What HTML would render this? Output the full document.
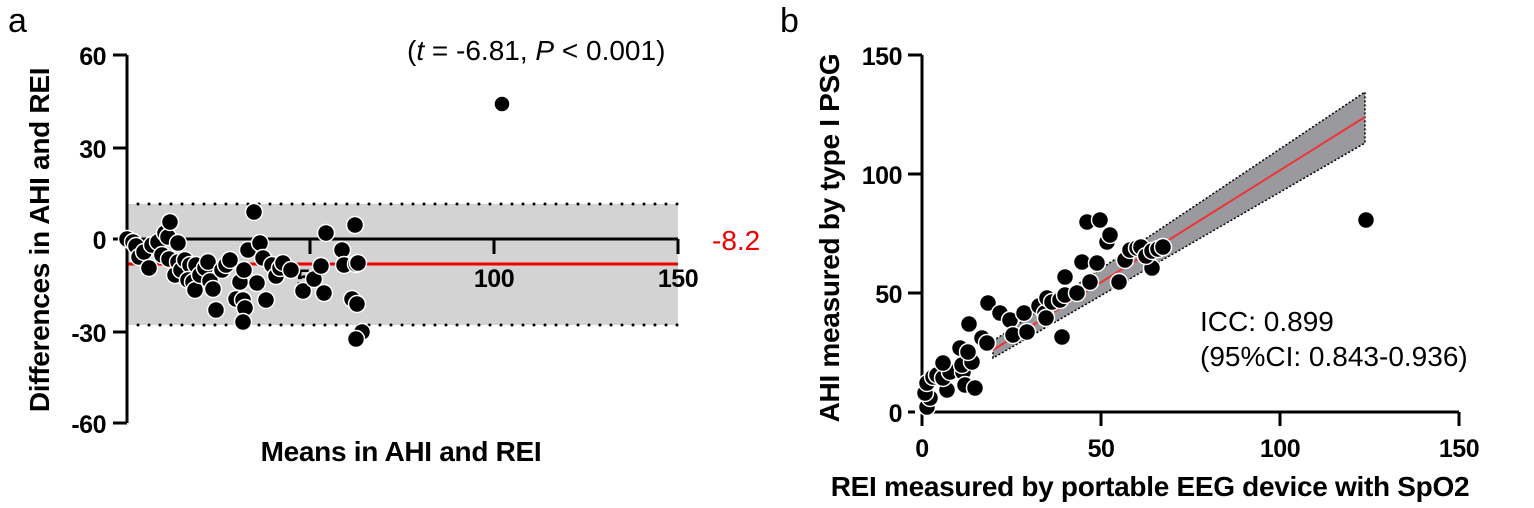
<!DOCTYPE html>
<html><head><meta charset="utf-8"><style>
html,body{margin:0;padding:0;background:#fff}
svg{display:block}
text{font-family:"Liberation Sans",Arial,sans-serif}
.tk{font-weight:bold;font-size:25px;letter-spacing:-0.5px}
.tt{font-weight:bold;font-size:28px;letter-spacing:-0.3px}
</style></head><body>
<svg width="1534" height="508" viewBox="0 0 1534 508" xmlns="http://www.w3.org/2000/svg">
<!-- Panel a -->
<text x="8" y="32" font-size="34">a</text>
<text x="407" y="60" font-size="28">(<tspan font-style="italic">t</tspan> = -6.81, <tspan font-style="italic">P</tspan> &lt; 0.001)</text>
<rect x="127" y="204" width="551" height="121" fill="#d3d3d3"/>
<line x1="127" y1="204" x2="678" y2="204" stroke="#000" stroke-width="3" stroke-dasharray="0 11" stroke-linecap="round"/>
<line x1="127" y1="325" x2="678" y2="325" stroke="#000" stroke-width="3" stroke-dasharray="0 11" stroke-linecap="round"/>
<line x1="127" y1="239" x2="678" y2="239" stroke="#000" stroke-width="3"/>
<line x1="310" y1="239" x2="310" y2="254" stroke="#000" stroke-width="3"/>
<line x1="494" y1="239" x2="494" y2="254" stroke="#000" stroke-width="3"/>
<line x1="678" y1="239" x2="678" y2="254" stroke="#000" stroke-width="3"/>
<line x1="127" y1="264" x2="678" y2="264" stroke="#e00" stroke-width="3"/>
<text x="712" y="250" font-size="28" fill="#e00">-8.2</text>
<line x1="127" y1="55" x2="127" y2="423" stroke="#000" stroke-width="3"/>
<g stroke="#000" stroke-width="3">
<line x1="113" y1="55" x2="127" y2="55"/><line x1="113" y1="148" x2="127" y2="148"/><line x1="113" y1="239" x2="127" y2="239"/><line x1="113" y1="332" x2="127" y2="332"/><line x1="113" y1="423" x2="127" y2="423"/>
</g>
<g class="tk" text-anchor="end">
<text x="106" y="65">60</text><text x="106" y="158">30</text><text x="106" y="249">0</text><text x="106" y="342">-30</text><text x="106" y="433">-60</text>
</g>
<g class="tk" text-anchor="middle">
<text x="310" y="287">50</text><text x="494" y="287">100</text><text x="678" y="287">150</text>
</g>
<text class="tt" transform="translate(49,240) rotate(-90)" text-anchor="middle">Differences in AHI and REI</text>
<text class="tt" x="401" y="461" text-anchor="middle">Means in AHI and REI</text>
<g fill="#000" stroke="#fff" stroke-width="1.5">
<circle cx="127" cy="239" r="8.5"/><circle cx="133" cy="242" r="8.5"/><circle cx="136" cy="246" r="8.5"/><circle cx="139" cy="257" r="8.5"/><circle cx="144" cy="252" r="8.5"/><circle cx="149" cy="268" r="8.5"/><circle cx="152" cy="245" r="8.5"/><circle cx="158" cy="242" r="8.5"/><circle cx="162" cy="255" r="8.5"/><circle cx="165" cy="233" r="8.5"/><circle cx="168" cy="237" r="8.5"/><circle cx="170" cy="222" r="8.5"/><circle cx="169" cy="259" r="8.5"/><circle cx="175" cy="275" r="8.5"/><circle cx="178" cy="262" r="8.5"/><circle cx="178" cy="243" r="8.5"/><circle cx="181" cy="270" r="8.5"/><circle cx="185" cy="260" r="8.5"/><circle cx="190" cy="265" r="8.5"/><circle cx="188" cy="280" r="8.5"/><circle cx="193" cy="282" r="8.5"/><circle cx="195" cy="290" r="8.5"/><circle cx="196" cy="265" r="8.5"/><circle cx="200" cy="275" r="8.5"/><circle cx="205" cy="268" r="8.5"/><circle cx="208" cy="262" r="8.5"/><circle cx="210" cy="281" r="8.5"/><circle cx="213" cy="289" r="8.5"/><circle cx="216" cy="310" r="8.5"/><circle cx="222" cy="270" r="8.5"/><circle cx="226" cy="265" r="8.5"/><circle cx="230" cy="260" r="8.5"/><circle cx="236" cy="299" r="8.5"/><circle cx="240" cy="282" r="8.5"/><circle cx="243" cy="300" r="8.5"/><circle cx="245" cy="308" r="8.5"/><circle cx="243" cy="322" r="8.5"/><circle cx="244" cy="270" r="8.5"/><circle cx="248" cy="250" r="8.5"/><circle cx="254" cy="212" r="8.5"/><circle cx="257" cy="283" r="8.5"/><circle cx="260" cy="243" r="8.5"/><circle cx="263" cy="258" r="8.5"/><circle cx="266" cy="300" r="8.5"/><circle cx="272" cy="265" r="8.5"/><circle cx="276" cy="276" r="8.5"/><circle cx="280" cy="268" r="8.5"/><circle cx="283" cy="263" r="8.5"/><circle cx="291" cy="270" r="8.5"/><circle cx="303" cy="291" r="8.5"/><circle cx="326" cy="233" r="8.5"/><circle cx="314" cy="279" r="8.5"/><circle cx="321" cy="266" r="8.5"/><circle cx="324" cy="293" r="8.5"/><circle cx="342" cy="250" r="8.5"/><circle cx="344" cy="265" r="8.5"/><circle cx="355" cy="225" r="8.5"/><circle cx="356" cy="264" r="8.5"/><circle cx="358" cy="263" r="8.5"/><circle cx="352" cy="299" r="8.5"/><circle cx="357" cy="304" r="8.5"/><circle cx="362" cy="332" r="8.5"/><circle cx="356" cy="339" r="8.5"/>
<circle cx="502" cy="104" r="8"/>
</g>
<!-- Panel b -->
<text x="780" y="32" font-size="34">b</text>
<polygon points="993,341 1365,92 1365,143 993,358" fill="#9a999e" stroke="#000" stroke-width="1.5" stroke-dasharray="2 2"/>
<line x1="993" y1="350" x2="1365" y2="117" stroke="#e33" stroke-width="2"/>
<line x1="922" y1="55" x2="922" y2="412" stroke="#000" stroke-width="3"/>
<g stroke="#000" stroke-width="3">
<line x1="908" y1="55" x2="922" y2="55"/><line x1="908" y1="174" x2="922" y2="174"/><line x1="908" y1="293" x2="922" y2="293"/><line x1="908" y1="412" x2="915" y2="412"/>
<line x1="922" y1="412" x2="1459" y2="412"/>
<line x1="922" y1="412" x2="922" y2="426"/><line x1="1101" y1="412" x2="1101" y2="426"/><line x1="1280" y1="412" x2="1280" y2="426"/><line x1="1459" y1="412" x2="1459" y2="426"/>
</g>
<g class="tk" text-anchor="end">
<text x="902" y="65">150</text><text x="902" y="184">100</text><text x="902" y="303">50</text><text x="902" y="422">0</text>
</g>
<g class="tk" text-anchor="middle">
<text x="922" y="457">0</text><text x="1101" y="457">50</text><text x="1280" y="457">100</text><text x="1459" y="457">150</text>
</g>
<text class="tt" transform="translate(839,238) rotate(-90)" text-anchor="middle">AHI measured by type I PSG</text>
<text class="tt" x="1150" y="496" text-anchor="middle">REI measured by portable EEG device with SpO2</text>
<text x="1200" y="331" font-size="28">ICC: 0.899</text>
<text x="1200" y="366" font-size="28">(95%CI: 0.843-0.936)</text>
<g fill="#000" stroke="#fff" stroke-width="1.5">
<circle cx="927" cy="407" r="8.5"/><circle cx="930" cy="398" r="8.5"/><circle cx="925" cy="393" r="8.5"/><circle cx="927" cy="383" r="8.5"/><circle cx="947" cy="390" r="8.5"/><circle cx="933" cy="377" r="8.5"/><circle cx="937" cy="375" r="8.5"/><circle cx="943" cy="378" r="8.5"/><circle cx="950" cy="372" r="8.5"/><circle cx="943" cy="363" r="8.5"/><circle cx="963" cy="372" r="8.5"/><circle cx="962" cy="365" r="8.5"/><circle cx="972" cy="362" r="8.5"/><circle cx="960" cy="348" r="8.5"/><circle cx="968" cy="352" r="8.5"/><circle cx="965" cy="385" r="8.5"/><circle cx="975" cy="388" r="8.5"/><circle cx="969" cy="324" r="8.5"/><circle cx="982" cy="338" r="8.5"/><circle cx="987" cy="343" r="8.5"/><circle cx="988" cy="303" r="8.5"/><circle cx="1000" cy="313" r="8.5"/><circle cx="1010" cy="320" r="8.5"/><circle cx="1013" cy="335" r="8.5"/><circle cx="1027" cy="332" r="8.5"/><circle cx="1024" cy="313" r="8.5"/><circle cx="1039" cy="306" r="8.5"/><circle cx="1045" cy="313" r="8.5"/><circle cx="1046" cy="318" r="8.5"/><circle cx="1047" cy="298" r="8.5"/><circle cx="1052" cy="302" r="8.5"/><circle cx="1060" cy="300" r="8.5"/><circle cx="1065" cy="295" r="8.5"/><circle cx="1065" cy="277" r="8.5"/><circle cx="1082" cy="262" r="8.5"/><circle cx="1097" cy="263" r="8.5"/><circle cx="1087" cy="222" r="8.5"/><circle cx="1100" cy="220" r="8.5"/><circle cx="1107" cy="242" r="8.5"/><circle cx="1110" cy="235" r="8.5"/><circle cx="1119" cy="282" r="8.5"/><circle cx="1125" cy="260" r="8.5"/><circle cx="1130" cy="250" r="8.5"/><circle cx="1137" cy="248" r="8.5"/><circle cx="1141" cy="247" r="8.5"/><circle cx="1152" cy="268" r="8.5"/><circle cx="1062" cy="337" r="8.5"/><circle cx="1090" cy="282" r="8.5"/><circle cx="1077" cy="293" r="8.5"/><circle cx="1146" cy="256" r="8.5"/><circle cx="1152" cy="251" r="8.5"/><circle cx="1158" cy="249" r="8.5"/><circle cx="1163" cy="247" r="8.5"/>
<circle cx="1366" cy="220" r="8.5"/>
</g>
</svg>
</body></html>
